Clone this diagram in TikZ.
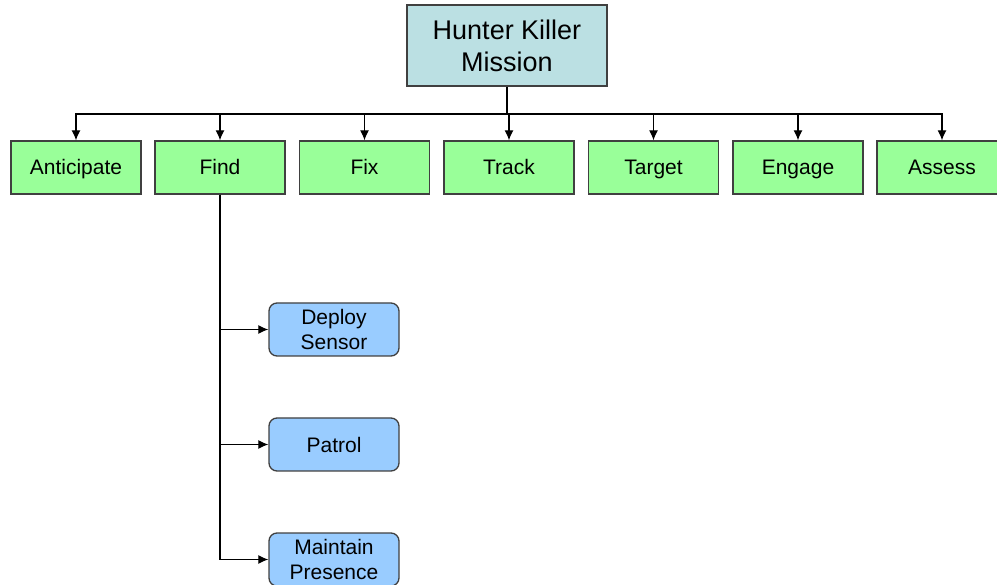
\documentclass[tikz,border=0pt]{standalone}
\usepackage{fontspec}
\setmainfont{Liberation Sans}
\usetikzlibrary{arrows.meta}
\newlength{\du}
\setlength{\du}{1pt}
\definecolor{missioncolor}{rgb}{0.733, 0.878, 0.890}
\definecolor{phasecolor}{rgb}{0.600, 1.000, 0.600}
\definecolor{taskcolor}{rgb}{0.600, 0.800, 1.000}
\definecolor{edgecolor}{rgb}{0.250, 0.250, 0.250}
\tikzset{
  missionbox/.style={draw=edgecolor, fill=missioncolor, line width=1.5\du, inner sep=0pt,
    minimum width=200\du, minimum height=81\du, align=center, font=\fontsize{27}{32}\selectfont},
  phasebox/.style={draw=edgecolor, fill=phasecolor, line width=1.3\du, inner sep=0pt,
    minimum width=130\du, minimum height=53\du, text height=17\du, text depth=2\du,
    font=\fontsize{21}{25}\selectfont},
  taskbox/.style={draw=edgecolor, fill=taskcolor, line width=1.3\du, inner sep=0pt, rounded corners=8\du,
    minimum width=130\du, minimum height=53\du, align=center, font=\fontsize{21}{25}\selectfont},
  link/.style={draw=black, line width=1.2\du},
  linkarrow/.style={link, -{Latex[length=10pt, width=9pt]}}
}
\begin{document}
\begin{tikzpicture}[x=1\du, y=-1\du]
\useasboundingbox (0,0) rectangle (997,585);
% top of the tree
\node[missionbox] (mission) at (507,45.5) {Hunter Killer\\Mission};
\coordinate (bus) at (508,114);
% phases
\node[phasebox] (anticipate) at (76,167.5) {Anticipate};
\node[phasebox] (find) at (220,167.5) {Find};
\node[phasebox] (fix) at (364.5,167.5) {Fix};
\node[phasebox] (track) at (509,167.5) {Track};
\node[phasebox] (target) at (653.5,167.5) {Target};
\node[phasebox] (engage) at (798,167.5) {Engage};
\node[phasebox] (assess) at (942,167.5) {Assess};
% tasks under find
\node[taskbox] (deploy) at (334,329.5) {Deploy\\Sensor};
\node[taskbox] (patrol) at (334,444.5) {Patrol};
\node[taskbox] (maintain) at (334,559.5) {Maintain\\Presence};
% links from the mission
\draw[link] (mission.south) -- (mission.south |- bus);
\draw[linkarrow] (mission.south |- bus) -| (anticipate.north);
\draw[linkarrow] (mission.south |- bus) -| (find.north);
\draw[linkarrow] (mission.south |- bus) -| (fix.north);
\draw[linkarrow] (mission.south |- bus) -| (track.north);
\draw[linkarrow] (mission.south |- bus) -| (target.north);
\draw[linkarrow] (mission.south |- bus) -| (engage.north);
\draw[linkarrow] (mission.south |- bus) -| (assess.north);
% links from find
\draw[linkarrow] (find.south) |- (deploy.west);
\draw[linkarrow] (find.south) |- (patrol.west);
\draw[linkarrow] (find.south) |- (maintain.west);
\end{tikzpicture}
\end{document}
